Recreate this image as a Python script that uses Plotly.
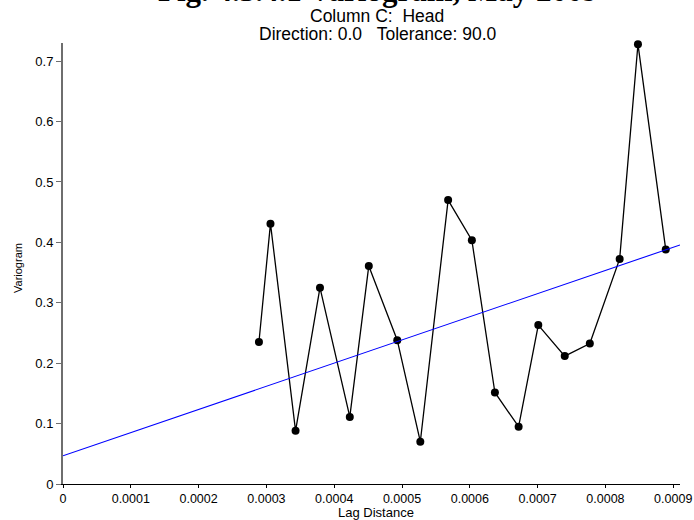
import plotly.graph_objects as go

# Experimental variogram: lag distance vs semivariance
lag = [0.000289, 0.000306, 0.000343, 0.000379, 0.000423, 0.000451, 0.000493,
       0.000527, 0.000568, 0.000603, 0.000637, 0.000672, 0.000701, 0.000740,
       0.000777, 0.000821, 0.000848, 0.000889]
gamma = [0.235, 0.431, 0.088, 0.325, 0.111, 0.361, 0.238, 0.070, 0.470,
         0.4035, 0.1515, 0.0948, 0.263, 0.2117, 0.2325, 0.3726, 0.728, 0.388]

# Linear variogram model
model_lag = [0.0, 0.00091]
model_gamma = [0.0467, 0.3957]

x_ticks = [0, 0.0001, 0.0002, 0.0003, 0.0004, 0.0005, 0.0006, 0.0007, 0.0008, 0.0009]
x_tick_text = ["0", "0.0001", "0.0002", "0.0003", "0.0004", "0.0005", "0.0006",
               "0.0007", "0.0008", "0.0009"]
y_ticks = [0, 0.1, 0.2, 0.3, 0.4, 0.5, 0.6, 0.7]
y_tick_text = ["0", "0.1", "0.2", "0.3", "0.4", "0.5", "0.6", "0.7"]

fig = go.Figure()
fig.add_trace(go.Scatter(
    x=lag, y=gamma, mode="lines+markers",
    line=dict(color="black", width=1.3),
    marker=dict(color="black", size=8, symbol="circle"),
    showlegend=False, cliponaxis=False,
))
fig.add_trace(go.Scatter(
    x=model_lag, y=model_gamma, mode="lines",
    line=dict(color="#0000ff", width=1.1),
    showlegend=False, cliponaxis=False,
))

W, H = 694, 520
L, R, T, B = 63, 14, 43, 36
pw = W - L - R
ph = H - T - B


def px(pixel_x):
    # convert a pixel column to paper coordinates
    return (pixel_x - L) / pw


def py(pixel_y):
    # convert a pixel row to paper coordinates
    return (H - B - pixel_y) / ph


sans = "Liberation Sans, Arial, sans-serif"

fig.update_layout(
    width=W, height=H,
    margin=dict(l=L, r=R, t=T, b=B, pad=0, autoexpand=False),
    plot_bgcolor="white", paper_bgcolor="white",
    font=dict(family=sans, color="black", size=13),
    xaxis=dict(
        range=[0, 0.00091], tickvals=x_ticks, ticktext=x_tick_text,
        showgrid=False, zeroline=False, showline=True, linecolor="black",
        linewidth=1, ticks="outside", ticklen=3, tickcolor="black",
        tickfont=dict(size=12.5, color="black"), automargin=False,
    ),
    yaxis=dict(
        range=[0, 0.73], tickvals=y_ticks, ticktext=y_tick_text,
        showgrid=False, zeroline=False, showline=True, linecolor="#6e6e6e",
        linewidth=2, ticks="outside", ticklen=5, tickcolor="#6e6e6e",
        tickfont=dict(size=13, color="black"), automargin=False,
    ),
    annotations=[
        dict(text="<b>Fig. 4.3.4.1 Variogram, May 2009</b>", xref="paper", yref="paper",
             x=px(378), y=py(4), xanchor="center", yanchor="bottom",
             showarrow=False, yshift=-6,
             font=dict(family="Liberation Serif, Times New Roman, serif",
                       size=31, color="black")),
        dict(text="Column C:&nbsp;&nbsp;Head", xref="paper", yref="paper",
             x=px(377), y=py(16.5), xanchor="center", yanchor="middle",
             showarrow=False, font=dict(size=17.5, color="black")),
        dict(text="Direction: 0.0&nbsp;&nbsp;&nbsp;Tolerance: 90.0", xref="paper", yref="paper",
             x=px(378), y=py(34), xanchor="center", yanchor="middle",
             showarrow=False, font=dict(size=17.5, color="black")),
        dict(text="Lag Distance", xref="paper", yref="paper",
             x=px(376), y=py(512.5), xanchor="center", yanchor="middle",
             showarrow=False, font=dict(size=13, color="black")),
        dict(text="Variogram", xref="paper", yref="paper",
             x=px(18), y=py(268), xanchor="center", yanchor="middle",
             textangle=-90, showarrow=False, font=dict(size=11, color="black")),
    ],
)

fig.write_html("out.html")
